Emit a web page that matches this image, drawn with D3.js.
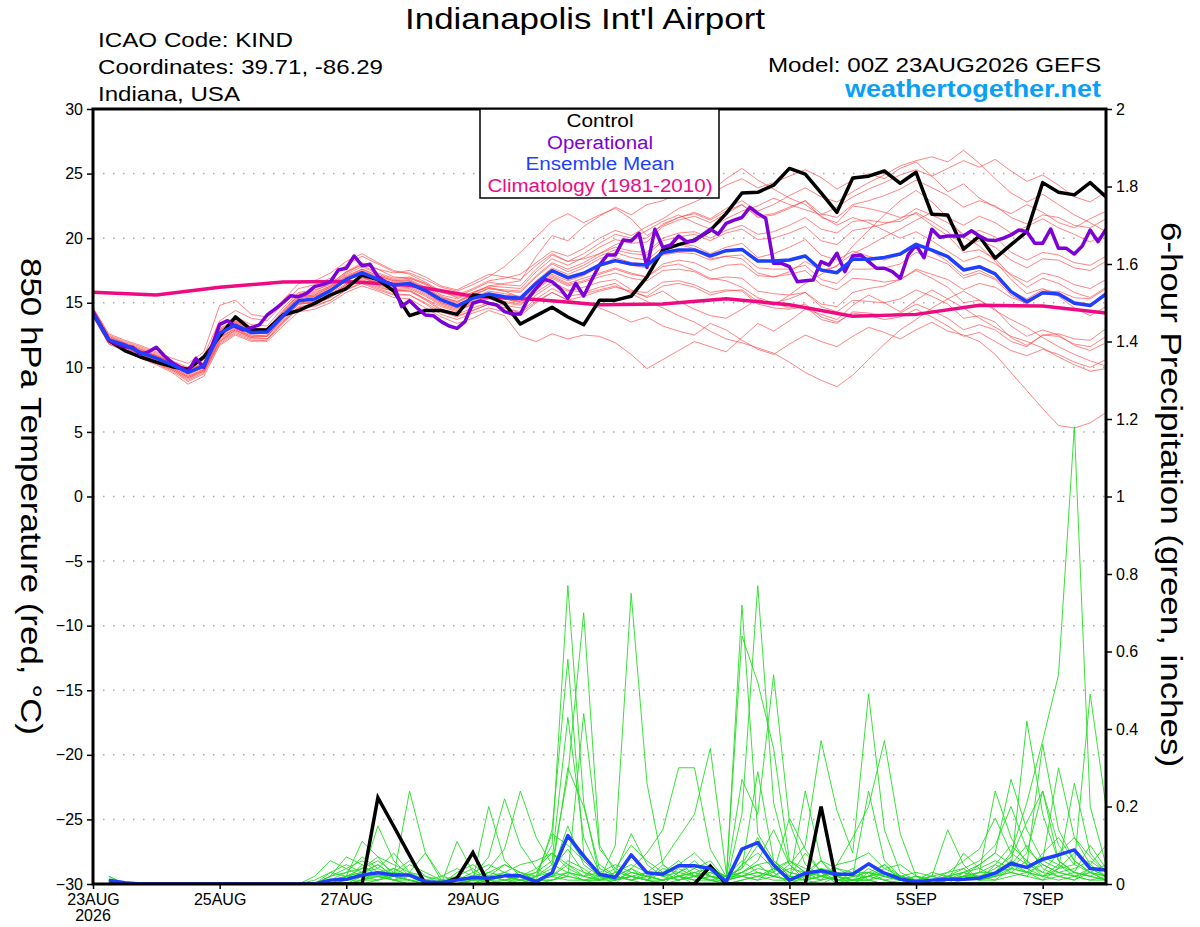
<!DOCTYPE html>
<html>
<head>
<meta charset="utf-8">
<script src="https://cdn.jsdelivr.net/npm/d3@7"></script>
<style>
  body { margin: 0; background: #fff; }
  svg { font-family: "Liberation Sans", Arial, Helvetica, sans-serif; }
</style>
</head>
<body>
<script>
// ---- data (GEFS 00Z 23AUG2026, KIND) ----
var tickDates = ["2026-08-23", "2026-08-25", "2026-08-27", "2026-08-29", "2026-09-01", "2026-09-03", "2026-09-05", "2026-09-07"];
var tickLabels = ["23AUG", "25AUG", "27AUG", "29AUG", "1SEP", "3SEP", "5SEP", "7SEP"];
var tempTicks = [-30, -25, -20, -15, -10, -5, 0, 5, 10, 15, 20, 25, 30];
var precipTicks = [0, 0.2, 0.4, 0.6, 0.8, 1, 1.2, 1.4, 1.6, 1.8, 2];

// 850 hPa temperature, 6-hourly from 00Z
var tempControl = [14.2, 12.1, 11.3, 10.8, 10.4, 10.05, 9.85, 10.8, 12.4, 13.9,
  12.9, 12.9, 14.05, 14.4, 14.95, 15.6, 16.1, 17.15, 16.8, 15.9,
  14.0, 14.4, 14.4, 14.1, 15.6, 15.5, 14.95, 13.35, 14.0, 14.65,
  13.9, 13.3, 15.2, 15.2, 15.5, 17.0, 19.1, 19.5, 19.85, 20.6,
  21.9, 23.5, 23.55, 24.1, 25.4, 24.95, 23.5, 22.0, 24.65, 24.8,
  25.2, 24.25, 25.1, 21.85, 21.8, 19.15, 20.15, 18.45, 19.5, 20.5,
  24.3, 23.55, 23.35, 24.3, 23.2];

var tempMean = [14.18, 12.12, 11.74, 11.15, 10.71, 10.2, 9.6, 10.12, 12.64, 13.28,
  12.69, 12.74, 13.98, 15.16, 15.29, 15.94, 16.81, 17.33, 16.81, 16.37,
  16.5, 15.94, 15.22, 14.75, 15.34, 15.68, 15.47, 15.34, 16.5, 17.48,
  16.94, 17.28, 17.92, 18.26, 18.0, 17.92, 18.88, 19.09, 19.09, 18.62,
  19.03, 19.13, 18.23, 18.23, 18.31, 18.62, 17.54, 17.33, 18.36, 18.36,
  18.51, 18.77, 19.52, 19.08, 18.57, 17.54, 17.79, 17.23, 15.86, 15.08,
  15.78, 15.68, 14.96, 14.78, 15.68];

// operational run, 3-hourly
var tempOper = [14.3, 13.2, 12.1, 11.8, 11.6, 11.55, 11.0, 11.2, 11.55, 10.9,
  10.36, 10.0, 9.67, 10.7, 10.0, 11.6, 13.33, 13.61, 13.15, 12.9,
  13.07, 13.28, 14.05, 14.5, 15.0, 15.55, 15.47, 15.73, 16.25, 16.4,
  16.63, 17.54, 17.67, 18.62, 17.87, 17.98, 17.02, 16.6, 16.37, 14.7,
  15.16, 14.57, 14.05, 14.0, 13.54, 13.2, 13.02, 13.54, 14.96, 15.14,
  14.96, 14.83, 14.31, 14.13, 14.13, 15.34, 16.12, 16.82, 16.63, 16.12,
  15.34, 16.5, 15.52, 16.76, 17.92, 18.7, 18.7, 19.86, 19.78, 20.38,
  17.74, 20.69, 19.29, 19.47, 20.17, 19.73, 19.8, 20.25, 20.7, 20.3,
  21.15, 21.4, 21.6, 22.39, 21.92, 21.54, 18.05, 18.05, 17.79, 16.63,
  16.71, 16.76, 18.18, 17.92, 18.83, 17.41, 18.62, 18.7, 18.18, 17.67,
  17.67, 17.41, 16.89, 18.7, 19.47, 18.49, 20.69, 20.07, 20.17, 20.17,
  20.17, 20.58, 20.17, 19.86, 19.81, 19.99, 20.25, 20.63, 20.5, 19.6,
  19.6, 20.71, 19.21, 19.21, 18.77, 19.39, 20.63, 19.73, 20.69];

// 1981-2010 climatology, daily
var tempClimo = [15.81, 15.6, 16.2, 16.6, 16.65, 16.35, 15.5, 15.25, 14.85, 14.9,
  15.3, 14.85, 13.95, 14.1, 14.8, 14.75, 14.2];

// ensemble members, 6-hourly
var tempMembers = [
  [14.5, 12.4, 11.9, 11.5, 11.0, 10.4, 9.9, 10.6, 13.2, 13.9, 13.3, 13.2, 14.6, 15.8, 16.0, 16.4, 17.4, 18.1, 17.6, 17.0, 16.9, 16.5, 15.8, 15.6, 16.1, 16.7, 16.9, 17.2, 18.1, 19.0, 18.6, 19.2, 20.0, 20.6, 20.2, 20.9, 21.5, 22.3, 22.8, 23.4, 24.1, 24.6, 23.9, 24.3, 24.8, 25.3, 24.7, 23.8, 24.5, 25.0, 24.6, 25.4, 25.9, 24.8, 23.6, 24.2, 23.1, 22.4, 21.9, 22.6, 22.0, 21.2, 20.8, 21.5, 22.1],
  [14.3, 12.0, 11.5, 11.0, 10.5, 9.9, 9.2, 9.7, 12.0, 12.9, 12.3, 12.2, 13.5, 14.6, 14.8, 15.2, 16.0, 16.6, 16.1, 15.7, 15.6, 15.0, 14.3, 13.9, 14.4, 14.9, 14.6, 14.2, 15.1, 15.8, 15.2, 15.0, 14.6, 14.1, 13.5, 13.9, 13.2, 12.8, 12.5, 13.4, 12.9, 12.1, 11.4, 11.0, 11.8, 12.5, 12.0, 11.6, 12.4, 13.1, 12.7, 12.2, 12.9, 13.5, 12.8, 12.5, 12.0, 11.0, 9.6, 8.2, 6.8, 5.5, 5.3, 5.7, 6.5],
  [14.0, 11.9, 11.4, 10.9, 10.3, 9.8, 9.0, 9.6, 11.8, 12.6, 12.1, 12.0, 13.2, 14.3, 14.5, 15.0, 15.8, 16.3, 15.9, 15.4, 15.3, 14.6, 13.9, 13.4, 13.8, 14.4, 14.0, 12.4, 12.0, 12.6, 12.2, 12.5, 12.4, 11.9, 11.0, 9.9, 10.6, 11.3, 12.0, 11.6, 11.2, 12.3, 13.4, 12.8, 13.6, 14.5, 14.1, 13.7, 14.8, 15.6, 15.0, 14.3, 15.2, 16.0, 15.3, 14.6, 13.8, 13.1, 12.4, 12.0, 11.5, 10.8, 10.2, 9.7, 9.9],
  [14.4, 12.2, 11.6, 11.1, 10.6, 10.1, 9.4, 10.0, 12.3, 13.0, 12.5, 12.4, 13.8, 14.9, 15.1, 15.6, 16.4, 17.0, 16.6, 16.0, 15.9, 15.3, 14.7, 14.3, 14.9, 15.4, 15.1, 14.9, 15.8, 16.6, 16.0, 15.8, 16.2, 16.5, 15.7, 15.1, 14.6, 14.0, 13.5, 12.8, 12.2, 11.9, 11.5, 11.1, 10.4, 9.6, 9.0, 8.5, 9.4, 10.6, 11.8, 12.9, 13.7, 14.6, 15.3, 15.9, 15.2, 14.4, 13.7, 13.1, 12.3, 11.6, 11.0, 10.5, 10.1],
  [14.6, 12.5, 12.0, 11.6, 11.1, 10.5, 10.0, 10.9, 13.6, 14.4, 13.8, 13.6, 14.9, 16.1, 16.4, 16.9, 17.9, 18.6, 18.0, 17.4, 17.3, 16.8, 16.2, 15.9, 16.4, 17.0, 17.8, 18.9, 20.1, 21.3, 21.9, 21.2, 21.8, 22.3, 21.5, 20.2, 21.0, 21.6, 22.0, 21.5, 22.3, 22.9, 22.1, 22.6, 23.3, 23.9, 23.2, 22.8, 23.6, 24.3, 24.9, 25.6, 26.0, 26.3, 25.9, 26.8, 25.8, 24.6, 23.5, 22.8, 23.4, 22.6, 21.8, 21.2, 20.5],
  [14.3, 12.2, 11.8, 11.3, 10.8, 10.3, 9.7, 10.2, 12.8, 13.5, 12.9, 12.9, 14.2, 15.4, 15.5, 16.1, 17.0, 17.6, 17.1, 16.7, 16.8, 16.2, 15.5, 15.1, 15.6, 16.1, 15.9, 15.8, 17.0, 18.0, 17.4, 17.9, 18.6, 19.1, 18.8, 18.7, 19.8, 20.1, 20.3, 19.8, 20.4, 20.7, 19.9, 20.0, 20.4, 20.9, 19.8, 19.5, 20.6, 20.8, 21.1, 21.5, 22.3, 21.8, 21.2, 20.3, 20.6, 20.1, 18.9, 18.3, 18.9, 18.7, 18.1, 17.9, 18.6],
  [14.1, 12.0, 11.6, 11.1, 10.6, 10.0, 9.3, 9.8, 12.2, 13.0, 12.4, 12.4, 13.7, 14.9, 15.0, 15.6, 16.4, 17.0, 16.4, 16.0, 16.1, 15.5, 14.8, 14.4, 14.9, 15.3, 15.0, 14.8, 16.0, 16.9, 16.3, 16.6, 17.0, 17.3, 16.9, 16.7, 17.5, 17.6, 17.4, 16.8, 17.0, 16.9, 15.9, 15.7, 15.6, 15.8, 14.7, 14.3, 15.2, 15.1, 15.0, 15.3, 16.0, 15.5, 14.9, 13.8, 14.0, 13.5, 12.3, 11.7, 12.5, 12.4, 11.8, 11.6, 12.4],
  [14.5, 12.3, 11.8, 11.3, 10.9, 10.4, 9.8, 10.4, 13.0, 13.7, 13.0, 13.0, 14.3, 15.6, 15.8, 16.3, 17.2, 17.8, 17.2, 16.8, 16.9, 16.4, 15.6, 15.3, 15.8, 16.3, 16.2, 16.1, 17.4, 18.4, 17.9, 18.5, 19.3, 19.9, 19.6, 19.7, 20.9, 21.4, 21.7, 21.2, 21.9, 22.6, 21.7, 21.9, 22.4, 22.9, 21.6, 21.2, 22.5, 22.3, 22.0, 21.6, 21.9, 21.0, 20.2, 18.9, 19.1, 18.4, 17.1, 16.2, 16.9, 16.5, 15.8, 15.4, 16.2],
  [13.9, 11.8, 11.3, 10.7, 10.2, 9.6, 8.7, 9.3, 11.7, 12.5, 12.0, 12.1, 13.4, 14.6, 14.9, 15.4, 16.3, 16.9, 16.5, 16.2, 16.4, 15.8, 15.0, 14.6, 15.1, 15.5, 15.3, 15.1, 16.4, 17.4, 16.8, 17.2, 17.8, 18.2, 17.9, 17.7, 18.7, 18.9, 18.8, 18.3, 18.6, 18.7, 17.7, 17.6, 17.6, 17.9, 16.8, 16.5, 17.6, 17.6, 17.7, 18.0, 18.9, 18.5, 18.0, 16.9, 17.3, 16.8, 15.6, 14.9, 15.7, 15.6, 15.0, 14.8, 15.7],
  [14.2, 12.1, 11.7, 11.2, 10.7, 10.2, 9.5, 10.0, 12.5, 13.3, 12.8, 12.9, 14.3, 15.6, 15.7, 16.3, 17.3, 18.0, 17.6, 17.3, 17.5, 17.0, 16.3, 16.0, 16.6, 17.2, 17.0, 16.8, 17.9, 18.8, 18.2, 18.4, 18.8, 19.5, 19.9, 20.6, 21.3, 21.8, 21.2, 20.7, 21.5, 22.1, 22.5, 23.1, 22.6, 22.2, 21.8, 22.4, 23.2, 23.8, 24.3, 24.9, 25.3, 24.8, 25.4, 26.0, 25.5, 26.1, 25.2, 24.4, 24.9, 24.1, 23.2, 22.8, 23.6],
  [14.0, 11.9, 11.4, 10.9, 10.4, 9.8, 9.1, 9.7, 12.0, 12.8, 12.3, 12.4, 13.6, 14.7, 14.9, 15.4, 16.2, 16.7, 16.2, 15.9, 16.0, 15.3, 14.5, 14.1, 14.6, 15.0, 14.8, 14.6, 15.6, 16.4, 15.9, 16.2, 16.6, 16.8, 16.0, 15.4, 15.9, 15.1, 14.5, 14.0, 13.8, 14.5, 15.3, 14.8, 15.6, 16.5, 17.2, 17.9, 18.8, 19.4, 20.1, 20.7, 21.4, 22.0, 21.6, 21.0, 21.7, 21.2, 20.4, 20.9, 21.5, 20.8, 20.3, 19.7, 20.4],
  [14.6, 12.6, 12.1, 11.7, 11.2, 10.7, 10.3, 11.2, 14.8, 15.2, 14.1, 13.9, 15.2, 16.5, 16.7, 17.3, 18.2, 18.8, 18.1, 17.5, 17.2, 16.6, 15.9, 15.4, 15.8, 16.2, 15.9, 15.4, 16.4, 17.2, 16.7, 17.1, 17.8, 18.5, 18.1, 18.0, 19.1, 19.6, 19.4, 18.8, 19.3, 19.6, 18.5, 18.8, 19.3, 19.9, 18.7, 18.3, 19.0, 18.6, 18.3, 18.7, 19.6, 19.0, 18.2, 17.1, 17.5, 16.9, 15.9, 15.3, 16.0, 15.8, 15.1, 14.9, 15.6],
  [14.1, 12.0, 11.5, 11.0, 10.5, 10.0, 9.3, 9.9, 12.3, 13.1, 12.6, 12.6, 13.9, 15.0, 15.1, 15.7, 16.5, 17.0, 16.5, 16.1, 16.2, 15.6, 14.9, 14.5, 15.0, 15.5, 15.3, 15.1, 16.2, 17.1, 16.5, 16.9, 17.3, 17.7, 17.3, 17.0, 17.8, 18.0, 17.5, 16.9, 16.7, 16.2, 15.4, 15.0, 14.6, 14.9, 13.9, 13.5, 14.2, 14.0, 13.7, 13.9, 14.5, 13.9, 13.2, 12.4, 12.7, 12.0, 11.3, 10.9, 11.4, 11.0, 10.4, 10.0, 10.6],
  [14.4, 12.3, 11.8, 11.4, 10.9, 10.4, 9.8, 10.3, 12.9, 13.6, 13.0, 12.9, 14.2, 15.5, 15.6, 16.2, 17.1, 17.6, 17.1, 16.7, 16.7, 16.1, 15.4, 15.1, 15.7, 16.3, 16.5, 16.7, 18.6, 20.2, 19.8, 20.9, 21.7, 22.4, 21.8, 22.6, 22.9, 23.5, 24.2, 23.6, 24.6, 25.4, 24.5, 23.8, 23.1, 22.6, 21.7, 21.0, 21.6, 21.2, 20.6, 20.0, 20.5, 19.8, 19.0, 18.2, 18.6, 18.0, 17.2, 16.6, 17.3, 17.0, 16.4, 16.1, 16.8],
  [14.2, 12.1, 11.6, 11.2, 10.7, 10.1, 9.5, 10.0, 12.4, 13.2, 12.7, 12.7, 14.0, 15.1, 15.3, 15.8, 16.7, 17.2, 16.7, 16.3, 16.3, 15.7, 15.0, 14.6, 15.1, 15.6, 15.3, 15.0, 16.1, 17.0, 16.4, 16.7, 17.2, 17.6, 17.2, 17.0, 18.0, 18.3, 18.1, 17.5, 17.9, 18.0, 17.1, 17.0, 17.2, 17.5, 16.4, 16.0, 16.9, 16.8, 16.6, 16.8, 17.5, 16.9, 16.2, 15.0, 15.2, 14.5, 13.2, 12.4, 12.9, 12.5, 11.7, 11.3, 11.9],
  [14.5, 12.4, 11.9, 11.4, 10.9, 10.3, 9.7, 10.3, 12.9, 13.6, 13.0, 13.0, 14.4, 15.7, 15.9, 16.5, 17.4, 17.9, 17.3, 16.9, 17.0, 16.5, 15.8, 15.5, 16.0, 16.6, 16.4, 16.3, 17.6, 18.7, 18.2, 18.8, 19.6, 20.3, 20.0, 20.0, 21.1, 21.6, 21.9, 21.4, 22.1, 22.6, 21.6, 21.8, 22.3, 22.9, 21.9, 21.6, 22.6, 22.9, 23.3, 23.8, 24.5, 23.9, 23.3, 22.4, 22.9, 22.5, 21.6, 21.1, 21.8, 21.6, 21.0, 20.8, 21.5],
  [14.2, 12.0, 11.5, 11.0, 10.5, 9.9, 9.2, 9.8, 12.1, 12.9, 12.4, 12.5, 13.8, 14.9, 15.0, 15.5, 16.3, 16.8, 16.3, 15.9, 15.9, 15.2, 14.4, 14.0, 14.4, 14.9, 14.6, 14.3, 15.3, 16.1, 15.5, 15.7, 16.0, 16.3, 15.8, 15.5, 16.3, 16.5, 16.2, 15.6, 15.9, 16.0, 15.1, 15.0, 15.3, 15.8, 14.9, 14.7, 15.8, 16.1, 16.3, 16.8, 17.6, 17.2, 16.8, 16.0, 16.5, 16.2, 15.4, 15.0, 15.8, 15.9, 15.4, 15.3, 16.1],
  [14.3, 12.1, 11.7, 11.2, 10.6, 10.1, 9.6, 10.2, 12.7, 13.4, 12.8, 12.8, 14.1, 15.3, 15.5, 16.0, 16.9, 17.4, 16.9, 16.5, 16.6, 16.0, 15.3, 14.9, 15.4, 15.9, 15.7, 15.5, 16.7, 17.7, 17.2, 17.7, 18.4, 18.9, 18.5, 18.3, 19.3, 19.5, 19.2, 18.4, 18.6, 18.4, 17.3, 17.0, 17.4, 18.2, 17.5, 17.8, 19.4, 20.6, 21.8, 22.9, 23.7, 22.8, 21.6, 20.1, 19.4, 18.2, 16.8, 15.7, 16.1, 15.5, 14.6, 14.0, 14.7],
  [14.0, 11.8, 11.3, 10.8, 10.3, 9.7, 8.9, 9.5, 11.9, 12.7, 12.2, 12.2, 13.5, 14.6, 14.7, 15.2, 16.0, 16.5, 16.0, 15.6, 15.6, 14.9, 14.1, 13.7, 14.2, 14.6, 14.3, 14.0, 15.0, 15.8, 15.2, 15.5, 15.9, 16.2, 15.9, 15.8, 16.6, 16.7, 16.4, 15.8, 16.0, 15.9, 14.9, 14.6, 14.5, 14.7, 13.7, 13.4, 14.3, 14.2, 14.0, 14.2, 14.9, 14.4, 13.8, 12.9, 13.3, 12.9, 12.0, 11.6, 12.5, 12.6, 12.2, 12.1, 13.0],
  [14.4, 12.2, 11.7, 11.3, 10.8, 10.3, 9.7, 10.3, 12.8, 13.5, 12.9, 12.9, 14.2, 15.4, 15.6, 16.2, 17.0, 17.5, 17.0, 16.6, 16.7, 16.1, 15.4, 15.0, 15.6, 16.1, 16.0, 15.9, 17.1, 18.1, 17.6, 18.1, 18.8, 19.3, 19.0, 18.9, 20.0, 20.4, 20.5, 20.0, 20.6, 21.0, 20.3, 20.5, 21.0, 21.6, 20.7, 20.4, 21.3, 21.4, 21.2, 21.3, 22.0, 21.3, 20.5, 19.4, 19.8, 19.3, 18.3, 17.7, 18.4, 18.3, 17.7, 17.5, 18.2]
];

// 6-hour precipitation (inches), periods ending 06Z 23AUG ... 00Z 8SEP
var precipControl = [0, 0, 0, 0, 0, 0, 0, 0,
  0, 0, 0, 0, 0, 0, 0, 0,
  0, 0.223, 0.149, 0.074, 0, 0, 0.015, 0.081,
  0, 0, 0, 0, 0, 0, 0, 0,
  0, 0, 0, 0, 0, 0, 0.046, 0,
  0, 0, 0, 0, 0, 0.2, 0, 0,
  0, 0, 0, 0, 0, 0, 0, 0,
  0, 0, 0, 0, 0, 0, 0, 0];

var precipMean = [0.01, 0.003, 0, 0, 0, 0, 0, 0,
  0, 0, 0, 0, 0, 0, 0.01, 0.012,
  0.023, 0.029, 0.023, 0.023, 0.006, 0.004, 0.01, 0.017,
  0.015, 0.021, 0.021, 0.006, 0.029, 0.125, 0.072, 0.025,
  0.017, 0.075, 0.029, 0.025, 0.047, 0.047, 0.04, 0.006,
  0.09, 0.107, 0.049, 0.01, 0.028, 0.034, 0.025, 0.025,
  0.052, 0.028, 0.013, 0.006, 0.01, 0.012, 0.012, 0.015,
  0.028, 0.053, 0.043, 0.064, 0.075, 0.088, 0.04, 0.036];

var precipMembers = [
  [.02, 0, 0, 0, 0, 0, 0, 0, 0, 0, 0, 0, 0, 0, .02, .04, .06, .03, .01, 0, 0, 0, .01, .02, 0, 0, .01, .03, .10, .77, .21, .02, 0, .04, .01, 0, .03, .06, .02, 0, .05, .12, .03, 0, .02, .06, .01, 0, .03, .01, 0, 0, 0, .01, .02, .03, .03, .08, .21, .37, .54, 1.18, .20, .05],
  [.01, 0, 0, 0, 0, 0, 0, 0, 0, 0, 0, 0, 0, .01, .03, .02, .11, .07, .02, .01, 0, 0, 0, 0, .02, .05, .03, .01, .14, .58, .08, .01, .02, .01, 0, .01, .04, .02, .01, 0, .18, .77, .21, .05, .01, 0, .02, .04, .01, 0, 0, 0, 0, .02, .04, .01, .05, .10, .06, .03, .08, .12, .05, .02],
  [0, 0, 0, 0, 0, 0, 0, 0, 0, 0, 0, 0, 0, .02, .06, .04, .02, .15, .06, .02, 0, 0, .02, .04, .01, 0, 0, .02, .05, .28, .70, .10, .03, .02, .01, .05, .02, 0, .04, 0, .72, .13, .06, .02, .08, .03, 0, .01, .02, .05, .01, 0, .01, 0, .03, .02, .01, .04, .08, .24, .06, .03, .10, .04],
  [0, 0, 0, 0, 0, 0, 0, 0, 0, 0, 0, 0, 0, 0, 0, .01, .03, .05, .02, .24, .08, .01, 0, .01, .03, .02, .01, .02, .04, .09, .03, .01, .10, .75, .26, .05, .02, .03, .01, .02, .04, .29, .06, .02, .01, .04, .02, 0, .02, .01, 0, .01, .02, .14, .05, .01, .02, .06, .03, .01, .04, .26, .08, .03],
  [.01, 0, 0, 0, 0, 0, 0, 0, 0, 0, 0, 0, 0, 0, .01, .02, .04, .07, .05, .03, .01, 0, .11, .03, .01, 0, .02, .03, .06, .43, .12, .03, .01, .03, .02, .01, .02, .04, .06, .01, .27, .18, .54, .16, .05, .02, .03, .01, .04, .02, .01, 0, 0, .01, .02, .03, .24, .12, .05, .03, .02, .01, .04, .02],
  [0, 0, 0, 0, 0, 0, 0, 0, 0, 0, 0, 0, 0, 0, .02, .07, .05, .02, .01, 0, 0, 0, .02, .01, .20, .06, .02, .01, .03, .15, .05, .02, .01, .02, .01, .03, .05, .08, .04, .02, .06, .03, .02, .05, .10, .37, .19, .08, .49, .14, .03, .01, .02, .01, .03, .05, .08, .27, .14, .06, .04, .05, .03, .01],
  [0, 0, 0, 0, 0, 0, 0, 0, 0, 0, 0, 0, 0, 0, 0, 0, .01, .03, .04, .02, .01, 0, 0, .02, .07, .22, .10, .04, .02, .05, .02, .01, .02, .04, .08, .14, .30, .30, .09, .02, .03, .05, .02, .01, .24, .06, .02, .01, .01, .03, .02, .01, 0, 0, .01, .02, .03, .04, .42, .18, .06, .03, .02, .04],
  [0, 0, 0, 0, 0, 0, 0, 0, 0, 0, 0, 0, 0, 0, 0, .02, .03, .04, .02, .05, .03, .01, 0, .01, .04, .09, .24, .12, .05, .03, .01, .02, .04, .02, .03, .06, .12, .18, .35, .03, .02, .01, .04, .06, .03, .02, .05, .12, .20, .37, .13, .02, .01, .02, .01, .03, .05, .03, .02, .06, .30, .12, .07, .03],
  [0, 0, 0, 0, 0, 0, 0, 0, 0, 0, 0, 0, 0, 0, 0, 0, .02, .01, .03, .06, .02, 0, .01, 0, .02, .03, .01, 0, .03, .30, .20, .04, .02, .01, .03, .02, .05, .04, .02, .01, .64, .52, .35, .06, .03, .01, .02, .03, .03, .05, .02, .01, .03, .02, .01, .02, .04, .07, .16, .24, .10, .05, .49, .20],
  [.01, 0, 0, 0, 0, 0, 0, 0, 0, 0, 0, 0, 0, 0, .01, .03, .07, .04, .08, .03, .02, .01, 0, 0, .01, .02, .01, .01, .02, .06, .04, .01, .03, .13, .05, .02, .01, .03, .02, .01, .02, .04, .03, .17, .09, .03, .01, .02, .24, .06, .02, .01, 0, .01, .08, .04, .02, .05, .03, .08, .12, .06, .03, .02],
  [0, 0, 0, 0, 0, 0, 0, 0, 0, 0, 0, 0, 0, 0, 0, .01, .02, .02, .01, .03, .08, .02, .01, .02, .03, .05, .03, .02, .13, .10, .06, .02, .01, .02, .01, .04, .03, .02, .05, .01, .03, .06, .14, .05, .02, .04, .03, .02, .02, .03, .01, .02, .01, .03, .06, .09, .17, .08, .05, .36, .14, .06, .03, .05],
  [0, 0, 0, 0, 0, 0, 0, 0, 0, 0, 0, 0, 0, 0, .01, .01, .05, .02, .01, .01, 0, 0, .01, .03, .05, .03, .02, .01, .01, .02, .44, .09, .04, .10, .06, .03, .01, .02, .03, .01, .05, .08, .04, .02, .01, .02, .04, .03, .05, .02, .01, 0, 0, .02, .03, .01, .02, .03, .06, .02, .04, .08, .05, .10],
  [.02, 0, 0, 0, 0, 0, 0, 0, 0, 0, 0, 0, 0, 0, .02, .03, .04, .06, .03, .02, .01, 0, .03, .05, .02, .01, .02, .04, .08, .05, .03, .02, .02, .01, .02, .03, .06, .02, .01, 0, .01, .02, .03, .06, .04, .02, .01, .01, .02, .04, .05, .02, .01, .01, .02, .02, .03, .05, .10, .04, .02, .03, .02, .01],
  [0, 0, 0, 0, 0, 0, 0, 0, 0, 0, 0, 0, 0, 0, 0, 0, .01, .02, .02, .01, 0, .01, .02, .01, .01, .03, .05, .06, .08, .04, .02, .03, .05, .03, .02, .01, .02, .01, .02, .02, .04, .10, .05, .03, .02, .01, .05, .06, .08, .04, .02, .01, .02, .03, .04, .06, .10, .20, .09, .05, .03, .04, .06, .03],
  [0, 0, 0, 0, 0, 0, 0, 0, 0, 0, 0, 0, 0, 0, .03, .05, .03, .02, .04, .02, .01, 0, 0, .01, .02, .01, .01, .02, .03, .02, .01, .01, .03, .05, .03, .02, .03, .05, .02, .01, .02, .03, .02, .04, .03, .06, .04, .02, .03, .02, .01, .02, .01, .02, .03, .04, .06, .04, .03, .02, .05, .03, .02, .01],
  [0, 0, 0, 0, 0, 0, 0, 0, 0, 0, 0, 0, 0, 0, 0, .02, .03, .05, .02, .01, .01, .02, .04, .02, .01, .02, .03, .01, .02, .03, .02, .05, .02, .04, .02, .01, .02, .03, .04, .02, .03, .05, .06, .03, .02, .03, .02, .01, .02, .01, .02, .03, .02, .01, .02, .05, .08, .05, .04, .07, .05, .02, .04, .02],
  [0, 0, 0, 0, 0, 0, 0, 0, 0, 0, 0, 0, 0, 0, 0, 0, 0, .01, .02, .01, 0, 0, 0, 0, 0, .01, 0, .01, .02, .01, .01, 0, .01, .02, .01, 0, .01, .02, .01, 0, .01, .02, .01, .01, 0, .01, .02, .01, .01, 0, .01, .01, 0, .01, .02, .01, .02, .03, .02, .01, .02, .01, .03, .02],
  [.01, 0, 0, 0, 0, 0, 0, 0, 0, 0, 0, 0, 0, 0, .01, .02, .02, .03, .01, .02, .01, 0, .01, .01, .02, .01, .02, .01, .02, .12, .06, .02, .01, .03, .02, .01, .02, .01, .02, .01, .03, .02, .04, .02, .01, .02, .01, .02, .03, .02, .01, 0, .01, .02, .01, .02, .03, .06, .04, .02, .03, .02, .01, .02],
  [0, 0, 0, 0, 0, 0, 0, 0, 0, 0, 0, 0, 0, 0, .01, .01, .01, .02, .03, .02, .01, 0, 0, .01, .01, .02, .01, 0, .01, .03, .02, .01, .02, .01, .02, .03, .01, .02, .03, .02, .02, .03, .02, .01, .02, .03, .02, .01, .02, .03, .02, .01, .01, .02, .01, .02, .02, .04, .03, .05, .03, .02, .03, .01],
  [0, 0, 0, 0, 0, 0, 0, 0, 0, 0, 0, 0, 0, 0, 0, 0, .01, .01, .02, .01, 0, 0, 0, 0, .01, .01, .02, .01, .01, .02, .01, .01, .01, .02, .01, .01, .02, .01, .01, .01, .02, .01, .02, .01, .01, .02, .01, .01, .01, .02, .01, .01, .01, .01, .02, .01, .01, .02, .03, .02, .01, .02, .01, .01]
];

// ---- layout ----
var svgWidth = 1200;
var svgHeight = 927;
var margin = {top: 109, right: 94, bottom: 43, left: 93};
var width = svgWidth - margin.left - margin.right;
var height = svgHeight - margin.top - margin.bottom;

var runStart = Date.UTC(2026, 7, 23, 0);
var HOUR = 3600 * 1000;

var svg = d3.select("body")
  .append("svg")
  .attr("width", svgWidth)
  .attr("height", svgHeight);

var plot = svg.append("g")
  .attr("transform", `translate(${margin.left}, ${margin.top})`);

var xScale = d3.scaleUtc()
  .domain([new Date(runStart), new Date(runStart + 384 * HOUR)])
  .range([0, width]);
var yTemp = d3.scaleLinear().domain([-30, 30]).range([height, 0]);
var yPrecip = d3.scaleLinear().domain([0, 2]).range([height, 0]);

// values -> points on the time axis
function series(values, firstHour, stepHours) {
  return values.map(function(v, k) {
    return {t: new Date(runStart + (firstHour + k * stepHours) * HOUR), v: v};
  });
}

var tempLine = d3.line().x(d => xScale(d.t)).y(d => yTemp(d.v));
var precipLine = d3.line().x(d => xScale(d.t)).y(d => yPrecip(d.v));

plot.append("clipPath").attr("id", "clip")
  .append("rect").attr("width", width).attr("height", height);

// dotted grid at the temperature ticks
plot.append("g")
  .selectAll("line")
  .data(tempTicks.filter(t => t > -30 && t < 30))
  .enter()
  .append("line")
  .attr("x1", 0).attr("x2", width)
  .attr("y1", d => yTemp(d)).attr("y2", d => yTemp(d))
  .attr("stroke", "#aaa")
  .attr("stroke-width", 1.5)
  .attr("stroke-dasharray", "1.5,8.5");

var lines = plot.append("g").attr("clip-path", "url(#clip)").attr("fill", "none");

// ensemble members
lines.selectAll(".tmem")
  .data(tempMembers)
  .enter()
  .append("path")
  .attr("class", "tmem")
  .attr("d", d => tempLine(series(d, 0, 6)))
  .attr("stroke", "#ff4a4a")
  .attr("stroke-opacity", 0.85)
  .attr("stroke-width", 0.8);

lines.selectAll(".pmem")
  .data(precipMembers)
  .enter()
  .append("path")
  .attr("class", "pmem")
  .attr("d", d => precipLine(series(d, 6, 6)))
  .attr("stroke", "#22dd22")
  .attr("stroke-width", 0.9);

// climatology
lines.append("path")
  .attr("d", tempLine(series(tempClimo, 0, 24)))
  .attr("stroke", "#ee0a82")
  .attr("stroke-width", 3.5);

// control
lines.append("path")
  .attr("d", tempLine(series(tempControl, 0, 6)))
  .attr("stroke", "#000")
  .attr("stroke-width", 3.5)
  .attr("stroke-linejoin", "round");
lines.append("path")
  .attr("d", precipLine(series(precipControl, 6, 6)))
  .attr("stroke", "#000")
  .attr("stroke-width", 3.5);

// operational
lines.append("path")
  .attr("d", tempLine(series(tempOper, 0, 3)))
  .attr("stroke", "#7d00d9")
  .attr("stroke-width", 3.5)
  .attr("stroke-linejoin", "round");

// ensemble mean
lines.append("path")
  .attr("d", tempLine(series(tempMean, 0, 6)))
  .attr("stroke", "#1f3fff")
  .attr("stroke-width", 3.5)
  .attr("stroke-linejoin", "round");
lines.append("path")
  .attr("d", precipLine(series(precipMean, 6, 6)))
  .attr("stroke", "#1f3fff")
  .attr("stroke-width", 3.5)
  .attr("stroke-linejoin", "round");

// axes
var xAxis = d3.axisBottom(xScale)
  .tickValues(tickDates.map(s => new Date(s + "T00:00:00Z")))
  .tickFormat((d, i) => tickLabels[i])
  .tickSize(5);
var yAxisLeft = d3.axisLeft(yTemp).tickValues(tempTicks).tickSize(6).tickPadding(4);
var yAxisRight = d3.axisRight(yPrecip).tickValues(precipTicks).tickSize(6).tickPadding(4)
  .tickFormat(d => String(+d.toFixed(1)));

function styleAxis(g) {
  g.select(".domain").remove();
  g.selectAll(".tick line").attr("stroke", "#000").attr("stroke-width", 1.5);
  g.selectAll(".tick text").attr("fill", "#000").style("font-size", "16px")
    .style("font-family", "'Liberation Sans', Arial, sans-serif");
}

plot.append("g").attr("transform", `translate(0, ${height})`).call(xAxis).call(styleAxis)
  .selectAll(".tick text").attr("dy", "0.72em").attr("y", 9);
plot.append("g").call(yAxisLeft).call(styleAxis);
plot.append("g").attr("transform", `translate(${width}, 0)`).call(yAxisRight).call(styleAxis);

plot.append("text")
  .attr("x", 0).attr("y", height + 37)
  .attr("text-anchor", "middle")
  .style("font-size", "16px")
  .text("2026");

// frame
plot.append("rect")
  .attr("width", width).attr("height", height)
  .attr("fill", "none").attr("stroke", "#000").attr("stroke-width", 3);

// text stretched to the wide lettering of the original
function wideText(sel, len) {
  return sel.attr("textLength", len).attr("lengthAdjust", "spacingAndGlyphs");
}

// legend
var legend = svg.append("g");
legend.append("rect")
  .attr("x", 480).attr("y", 109).attr("width", 239).attr("height", 89)
  .attr("fill", "#fff").attr("stroke", "#000").attr("stroke-width", 1.5);
var legendItems = [
  {label: "Control", color: "#000", len: 67},
  {label: "Operational", color: "#7d00d9", len: 106},
  {label: "Ensemble Mean", color: "#1f3fff", len: 149},
  {label: "Climatology (1981-2010)", color: "#ee0a82", len: 225}
];
legend.selectAll("text.leg")
  .data(legendItems)
  .enter()
  .append("text")
  .attr("class", "leg")
  .attr("x", 600)
  .attr("y", (d, i) => 127 + i * 21.5)
  .attr("text-anchor", "middle")
  .attr("fill", d => d.color)
  .attr("textLength", d => d.len)
  .attr("lengthAdjust", "spacingAndGlyphs")
  .style("font-size", "18px")
  .text(d => d.label);

// header text
svg.append("text")
  .attr("x", 585).attr("y", 29)
  .attr("text-anchor", "middle")
  .style("font-size", "29px")
  .text("Indianapolis Int'l Airport")
  .call(wideText, 360);

var info = [
  {label: "ICAO Code: KIND", len: 195},
  {label: "Coordinates: 39.71, -86.29", len: 285},
  {label: "Indiana, USA", len: 142}
];
svg.append("g").selectAll("text")
  .data(info)
  .enter()
  .append("text")
  .attr("x", 98)
  .attr("y", (d, i) => 46.5 + i * 27)
  .attr("textLength", d => d.len)
  .attr("lengthAdjust", "spacingAndGlyphs")
  .style("font-size", "21px")
  .text(d => d.label);

svg.append("text")
  .attr("x", 1101).attr("y", 71.5)
  .attr("text-anchor", "end")
  .style("font-size", "21px")
  .text("Model: 00Z 23AUG2026 GEFS")
  .call(wideText, 333);

svg.append("text")
  .attr("x", 1101).attr("y", 97)
  .attr("text-anchor", "end")
  .attr("fill", "#0aa0f5")
  .style("font-size", "24px")
  .style("font-weight", "bold")
  .text("weathertogether.net")
  .call(wideText, 256);

// axis titles
svg.append("text")
  .attr("transform", "translate(21, 496.5) rotate(90)")
  .attr("text-anchor", "middle")
  .style("font-size", "30px")
  .text("850 hPa Temperature (red, \u00B0C)")
  .call(wideText, 477);

svg.append("text")
  .attr("transform", "translate(1161, 494.5) rotate(90)")
  .attr("text-anchor", "middle")
  .style("font-size", "30px")
  .text("6-hour Precipitation (green, inches)")
  .call(wideText, 545);
</script>
</body>
</html>
